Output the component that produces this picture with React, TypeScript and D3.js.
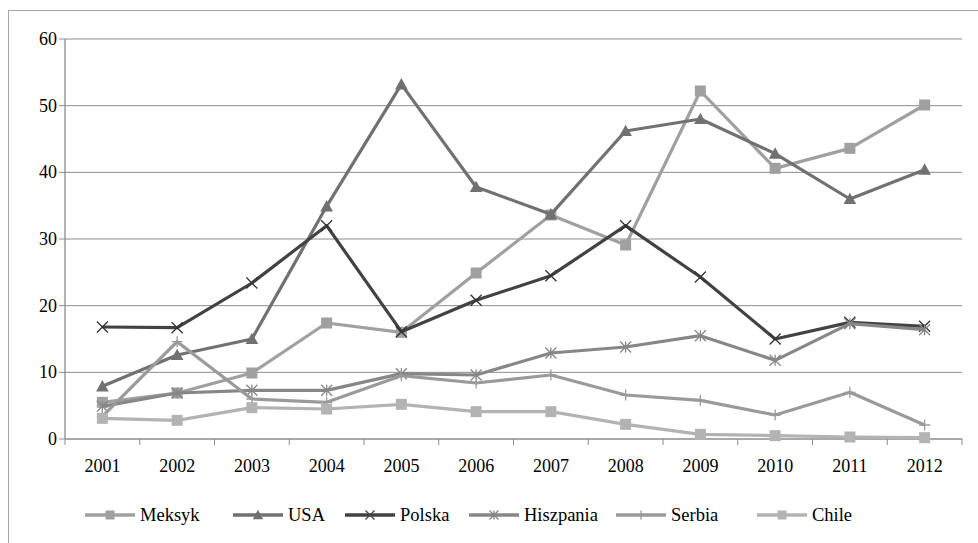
import * as d3 from "d3";

const years = ["2001", "2002", "2003", "2004", "2005", "2006", "2007", "2008", "2009", "2010", "2011", "2012"];
const yTickValues = [0, 10, 20, 30, 40, 50, 60];

const meksyk = [5.5, 6.9, 9.9, 17.4, 16.0, 24.9, 33.6, 29.1, 52.2, 40.6, 43.6, 50.1];
const usa = [7.9, 12.6, 15.0, 34.9, 53.2, 37.8, 33.7, 46.2, 48.0, 42.8, 36.0, 40.4];
const polska = [16.8, 16.7, 23.4, 32.0, 16.1, 20.8, 24.5, 32.0, 24.3, 15.0, 17.5, 16.9];
const hiszpania = [4.9, 6.9, 7.3, 7.3, 9.8, 9.6, 12.9, 13.8, 15.5, 11.8, 17.3, 16.4];
const serbia = [3.4, 14.6, 6.0, 5.5, 9.5, 8.4, 9.6, 6.6, 5.8, 3.6, 7.0, 2.1];
const chile = [3.1, 2.8, 4.7, 4.5, 5.2, 4.1, 4.1, 2.2, 0.7, 0.5, 0.3, 0.2];

type Marker = "square" | "triangle" | "x" | "star" | "plus";

const seriesNames = ["Meksyk", "USA", "Polska", "Hiszpania", "Serbia", "Chile"];
const seriesValues = [meksyk, usa, polska, hiszpania, serbia, chile];
const seriesColors = ["#a0a0a0", "#717171", "#424242", "#878787", "#9a9a9a", "#b3b3b3"];
const seriesMarkers: Marker[] = ["square", "triangle", "x", "star", "plus", "square"];

const W = 978;
const H = 543;
const PLOT = { left: 65, right: 962, top: 39, bottom: 439 };
// left edge of each legend entry (Excel spaces them unevenly)
const LEGEND_X = [85, 233, 345, 469, 616, 757];
const LEGEND_Y = 515;
const FONT = "Liberation Serif";
const txt = { fontFamily: FONT };

function MarkerShape({ type, cx, cy, color, size }: { type: Marker; cx: number; cy: number; color: string; size: number }) {
  const h = size / 2;
  if (type === "square") {
    return <rect x={cx - h} y={cy - h} width={size} height={size} fill={color} />;
  }
  if (type === "triangle") {
    const t = h * 1.15;
    return <path d={`M${cx},${cy - t}L${cx + t},${cy + t * 0.8}L${cx - t},${cy + t * 0.8}Z`} fill={color} />;
  }
  if (type === "x") {
    return (
      <path d={`M${cx - h},${cy - h}L${cx + h},${cy + h}M${cx - h},${cy + h}L${cx + h},${cy - h}`} stroke={color} strokeWidth={1.3} fill="none" />
    );
  }
  if (type === "star") {
    return (
      <path
        d={`M${cx - h},${cy - h}L${cx + h},${cy + h}M${cx - h},${cy + h}L${cx + h},${cy - h}M${cx},${cy - h}L${cx},${cy + h}`}
        stroke={color}
        strokeWidth={1.3}
        fill="none"
      />
    );
  }
  return <path d={`M${cx - h},${cy}L${cx + h},${cy}M${cx},${cy - h}L${cx},${cy + h}`} stroke={color} strokeWidth={1.3} fill="none" />;
}

export default function App() {
  const x = d3.scaleBand<string>().domain(years).range([PLOT.left, PLOT.right]);
  const y = d3.scaleLinear().domain([0, 60]).range([PLOT.bottom, PLOT.top]);
  const cx = (yr: string) => (x(yr) ?? 0) + x.bandwidth() / 2;

  const line = d3
    .line<number>()
    .x((_, i) => cx(years[i]))
    .y((d) => y(d));

  const gridColor = "#8c8c8c";

  return (
    <svg width={W} height={H} style={{ position: "absolute", left: 0, top: 0 }}>
      <rect x={0} y={0} width={W} height={H} fill="#fff" />
      <rect x={8.5} y={10.5} width={W + 10} height={H + 10} fill="none" stroke="#a6a6a6" strokeWidth={1} />

      {yTickValues.map((t) => (
        <g key={t}>
          {t > 0 && <line x1={PLOT.left} x2={PLOT.right} y1={y(t)} y2={y(t)} stroke={gridColor} strokeWidth={1} />}
          <line x1={PLOT.left - 6} x2={PLOT.left} y1={y(t)} y2={y(t)} stroke={gridColor} strokeWidth={1} />
          <text x={PLOT.left - 8} y={y(t)} textAnchor="end" dominantBaseline="central" fontSize={18} fill="#000" style={txt}>
            {t}
          </text>
        </g>
      ))}

      <line x1={PLOT.left} x2={PLOT.left} y1={PLOT.top} y2={PLOT.bottom} stroke={gridColor} strokeWidth={1.3} />
      <line x1={PLOT.left} x2={PLOT.right} y1={PLOT.bottom} y2={PLOT.bottom} stroke={gridColor} strokeWidth={1.3} />
      {years.map((yr) => (
        <line key={`t${yr}`} x1={x(yr) ?? 0} x2={x(yr) ?? 0} y1={PLOT.bottom} y2={PLOT.bottom + 6} stroke={gridColor} strokeWidth={1} />
      ))}
      <line x1={PLOT.right} x2={PLOT.right} y1={PLOT.bottom} y2={PLOT.bottom + 6} stroke={gridColor} strokeWidth={1} />
      {years.map((yr) => (
        <text key={`l${yr}`} x={cx(yr)} y={466} textAnchor="middle" dominantBaseline="central" fontSize={18} fill="#000" style={txt}>
          {yr}
        </text>
      ))}

      {seriesValues.map((vals, si) => (
        <g key={seriesNames[si]}>
          <path d={line(vals) ?? undefined} fill="none" stroke={seriesColors[si]} strokeWidth={3.2} strokeLinejoin="round" />
          {vals.map((v, i) => (
            <MarkerShape
              key={i}
              type={seriesMarkers[si]}
              cx={cx(years[i])}
              cy={y(v)}
              color={seriesMarkers[si] === "x" ? "#333" : seriesColors[si]}
              size={11}
            />
          ))}
        </g>
      ))}

      {seriesNames.map((name, si) => {
        const x0 = LEGEND_X[si];
        return (
          <g key={name}>
            <line x1={x0} x2={x0 + 50} y1={LEGEND_Y} y2={LEGEND_Y} stroke={seriesColors[si]} strokeWidth={3.5} />
            <MarkerShape
              type={seriesMarkers[si]}
              cx={x0 + 25}
              cy={LEGEND_Y}
              color={seriesMarkers[si] === "x" ? "#444" : seriesColors[si]}
              size={9}
            />
            <text x={x0 + 55} y={LEGEND_Y} dominantBaseline="central" fontSize={18.5} fill="#000" style={txt}>
              {name}
            </text>
          </g>
        );
      })}
    </svg>
  );
}
